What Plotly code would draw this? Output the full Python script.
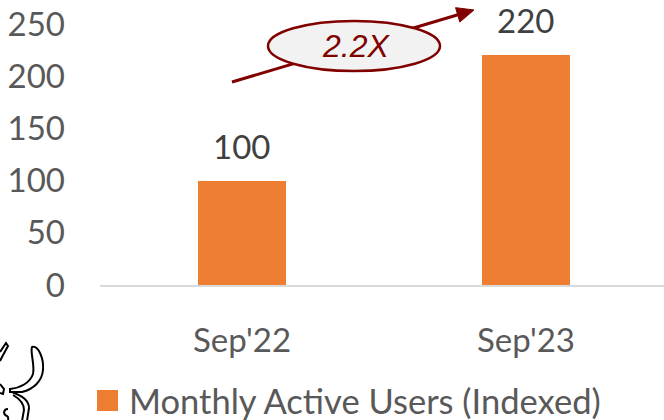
import plotly.graph_objects as go

# Chart data
categories = ["Sep'22", "Sep'23"]
mau_index = [100, 220]
series_name = "Monthly Active Users (Indexed)"
growth_label = "2.2X"
y_ticks = [0, 50, 100, 150, 200, 250]

BAR = "#ED7D31"
GREY = "#595959"
LABEL = "#404040"
RED = "#800000"
FONT = "Lato"

W, H = 664, 420
ML, MR, MT, MB = 100, 0, 24, 135
PW, PH = W - ML - MR, H - MT - MB


def px(x):
    return (x - ML) / PW


def py(y):
    return (H - MB - y) / PH


def path_px(points_cmds):
    """Build an SVG path in paper units from a list of (cmd, [(x, y), ...])."""
    out = []
    for cmd, pts in points_cmds:
        coords = " ".join(f"{px(x):.5f},{py(y):.5f}" for x, y in pts)
        out.append(f"{cmd} {coords}".strip())
    return " ".join(out)


fig = go.Figure()
fig.add_trace(go.Bar(
    x=categories, y=mau_index, name=series_name,
    marker=dict(color=BAR, line=dict(width=0)),
    width=0.313, showlegend=False,
))

# value labels above the bars
for c, v in zip(categories, mau_index):
    fig.add_annotation(x=c, y=v, text=str(v), showarrow=False,
                       yanchor="bottom", yshift=14, borderpad=0,
                       font=dict(family=FONT, size=33, color=LABEL))

shapes = []

# growth arrow (line + head), drawn beneath the ellipse
x0, y0, x1, y1 = 232, 82, 474, 10
dx, dy = x1 - x0, y1 - y0
L = (dx ** 2 + dy ** 2) ** 0.5
ux, uy = dx / L, dy / L
hl, hw = 17, 7.5
bx, by = x1 - hl * ux, y1 - hl * uy
shapes.append(dict(type="line", xref="paper", yref="paper",
                   x0=px(x0), y0=py(y0), x1=px(bx + 2 * ux), y1=py(by + 2 * uy),
                   line=dict(color=RED, width=3)))
shapes.append(dict(type="path", xref="paper", yref="paper",
                   path=path_px([("M", [(x1, y1)]),
                                 ("L", [(bx - hw * uy, by + hw * ux)]),
                                 ("L", [(bx + hw * uy, by - hw * ux)]),
                                 ("Z", [])]),
                   fillcolor=RED, line=dict(color=RED, width=1)))

# ellipse badge
cx, cy, rx, ry = 354, 46, 86, 25
shapes.append(dict(type="circle", xref="paper", yref="paper",
                   x0=px(cx - rx), x1=px(cx + rx), y0=py(cy + ry), y1=py(cy - ry),
                   fillcolor="#F2F2F2", line=dict(color=RED, width=2.5)))

# legend marker
shapes.append(dict(type="rect", xref="paper", yref="paper",
                   x0=px(97), x1=px(118), y0=py(411), y1=py(390),
                   fillcolor=BAR, line=dict(width=0)))

# horned logo outline in the lower-left corner
logo_paths = [
    [("M", [(32, 347)]),
     ("C", [(38, 345), (44, 358), (43, 370)]),
     ("C", [(42, 381), (34, 389), (22, 392)]),
     ("L", [(10, 392)]),
     ("L", [(10, 389)]),
     ("C", [(20, 388), (30, 383), (33, 374)]),
     ("C", [(35, 365), (30, 352), (32, 347)]),
     ("Z", [])],
    [("M", [(12, 392)]), ("C", [(22, 396), (29, 400), (29, 408)]), ("L", [(27, 421)])],
    [("M", [(13, 395)]), ("C", [(20, 399), (24, 403), (24, 410)]), ("L", [(22, 421)])],
    [("M", [(0, 352)]), ("L", [(6, 343)]), ("L", [(8, 346)]), ("L", [(2, 357)]), ("L", [(0, 361)])],
    [("M", [(0, 384)]), ("L", [(4, 389)]), ("L", [(3, 394)]), ("L", [(0, 393)])],
    [("M", [(8, 409)]), ("C", [(3, 409), (3, 415), (7, 416)]), ("C", [(9, 417), (8, 420), (8, 421)])],
]
for p in logo_paths:
    shapes.append(dict(type="path", xref="paper", yref="paper", path=path_px(p),
                       fillcolor="rgba(0,0,0,0)", line=dict(color="#000000", width=2)))

fig.update_layout(shapes=shapes)

fig.add_annotation(xref="paper", yref="paper", x=px(cx + 2), y=py(cy),
                   text=f"<i>{growth_label}</i>", showarrow=False,
                   xanchor="center", yanchor="middle",
                   font=dict(family="Liberation Sans", size=32, color=RED))

fig.add_annotation(xref="paper", yref="paper", x=px(127), y=py(400),
                   text=series_name, showarrow=False,
                   xanchor="left", yanchor="middle",
                   font=dict(family=FONT, size=34.5, color=GREY))

fig.update_layout(
    width=W, height=H,
    margin=dict(l=ML, r=MR, t=MT, b=MB, pad=0),
    paper_bgcolor="white", plot_bgcolor="white",
    showlegend=False,
    xaxis=dict(range=[-0.5, 1.486], showline=True, linecolor="#D9D9D9", linewidth=1.5,
               showgrid=False, zeroline=False, ticks="",
               tickfont=dict(family=FONT, size=33, color=GREY),
               ticklabelstandoff=26),
    yaxis=dict(range=[0, 250], tickvals=y_ticks, showgrid=False, zeroline=False,
               showline=False, ticks="",
               tickfont=dict(family=FONT, size=33, color=GREY),
               ticklabelstandoff=34),
    bargap=0,
)

fig.write_html("out.html")
